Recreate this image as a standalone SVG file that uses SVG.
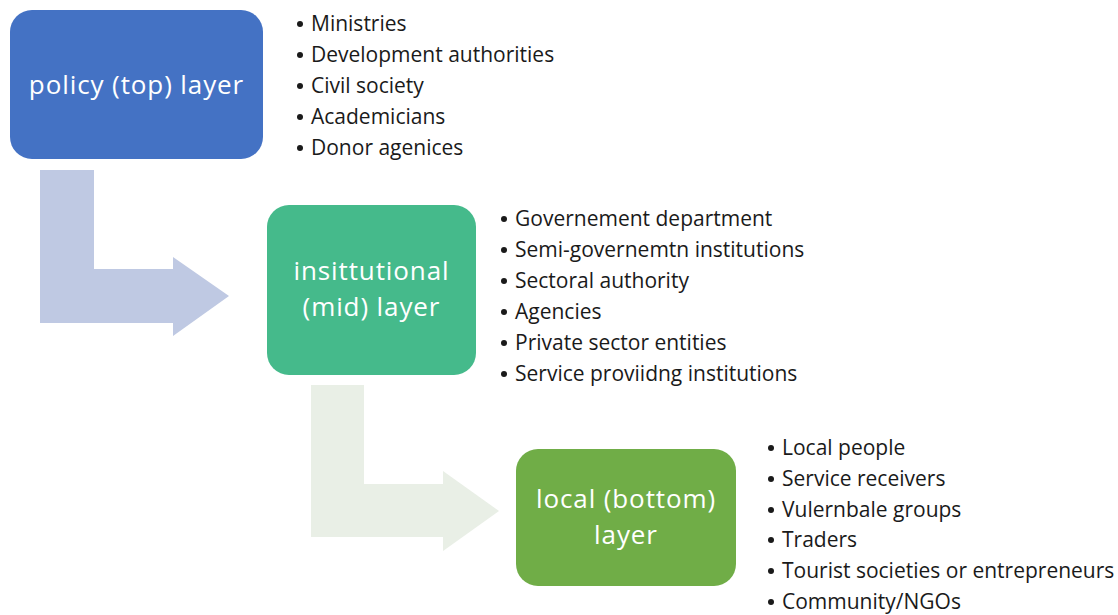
<svg xmlns="http://www.w3.org/2000/svg" width="1118" height="615" viewBox="0 0 1118 615">
<style>
.lbl{font-family:"Open Sans","Liberation Sans",sans-serif;font-size:26px;letter-spacing:0.9px;fill:#ffffff;text-anchor:middle}
.li{font-family:"Open Sans","Liberation Sans",sans-serif;font-size:21px;fill:#1a1a1a}
.b{fill:#1a1a1a}
</style>
<rect width="1118" height="615" fill="#ffffff"/>
<g id="connectors">
<path d="M40,170 H94 V269 H173 V257 L229,296 L173,336 V323 H40 Z" fill="#BFC9E3"/>
<path d="M311,385 H364 V484 H443 V471 L499,511 L443,551 V537 H311 Z" fill="#E9EFE6"/>
</g>
<g id="policy">
<rect x="10" y="10" width="253" height="149" rx="22" fill="#4472C4"/>
<text class="lbl" x="136.5" y="94">policy (top) layer</text>
</g>
<g id="institutional">
<rect x="267" y="205" width="209" height="170" rx="22" fill="#45BA8B"/>
<text class="lbl" x="371.5" y="280">insittutional</text>
<text class="lbl" x="371.5" y="315.5">(mid) layer</text>
</g>
<g id="local">
<rect x="516" y="449" width="220" height="137" rx="22" fill="#70AD47"/>
<text class="lbl" x="626" y="508">local (bottom)</text>
<text class="lbl" x="626" y="543.5">layer</text>
</g>
<g id="policy-list">
<circle class="b" cx="300" cy="24" r="3"/><text class="li" x="311" y="31">Ministries</text>
<circle class="b" cx="300" cy="55" r="3"/><text class="li" x="311" y="62">Development authorities</text>
<circle class="b" cx="300" cy="86" r="3"/><text class="li" x="311" y="93">Civil society</text>
<circle class="b" cx="300" cy="117" r="3"/><text class="li" x="311" y="124">Academicians</text>
<circle class="b" cx="300" cy="148" r="3"/><text class="li" x="311" y="155">Donor agenices</text>
</g>
<g id="institutional-list">
<circle class="b" cx="504" cy="219" r="3"/><text class="li" x="515" y="226">Governement department</text>
<circle class="b" cx="504" cy="250" r="3"/><text class="li" x="515" y="257">Semi-governemtn institutions</text>
<circle class="b" cx="504" cy="281" r="3"/><text class="li" x="515" y="288">Sectoral authority</text>
<circle class="b" cx="504" cy="312" r="3"/><text class="li" x="515" y="319">Agencies</text>
<circle class="b" cx="504" cy="343" r="3"/><text class="li" x="515" y="350">Private sector entities</text>
<circle class="b" cx="504" cy="374" r="3"/><text class="li" x="515" y="381">Service proviidng institutions</text>
</g>
<g id="local-list">
<circle class="b" cx="771" cy="448" r="3"/><text class="li" x="782" y="455">Local people</text>
<circle class="b" cx="771" cy="479" r="3"/><text class="li" x="782" y="486">Service receivers</text>
<circle class="b" cx="771" cy="510" r="3"/><text class="li" x="782" y="517">Vulernbale groups</text>
<circle class="b" cx="771" cy="540" r="3"/><text class="li" x="782" y="547">Traders</text>
<circle class="b" cx="771" cy="571" r="3"/><text class="li" x="782" y="578">Tourist societies or entrepreneurs</text>
<circle class="b" cx="771" cy="602" r="3"/><text class="li" x="782" y="609">Community/NGOs</text>
</g>
</svg>
